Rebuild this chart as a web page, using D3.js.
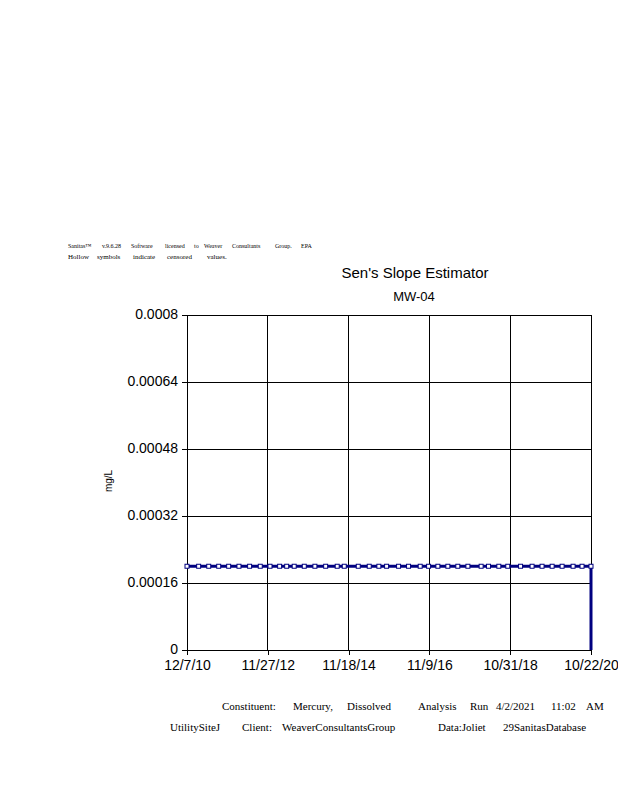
<!DOCTYPE html>
<html>
<head>
<meta charset="utf-8">
<script src="https://cdn.jsdelivr.net/npm/d3@7"></script>
<style>
  html, body { margin: 0; padding: 0; background: #fff; }
  svg { display: block; }
</style>
</head>
<body>
<svg id="chart" width="618" height="800"></svg>
<script>
// ---------- data ----------
const sampleDates = [
  "2010-12-07","2011-03-21","2011-06-19","2011-09-16","2011-12-14","2012-03-15",
  "2012-06-18","2012-09-21","2012-12-17","2013-03-13","2013-05-15","2013-07-21",
  "2013-10-19","2014-01-22","2014-04-28","2014-08-09","2014-10-11","2015-02-13",
  "2015-05-22","2015-08-16","2015-10-24","2016-02-08","2016-05-07","2016-08-19",
  "2016-11-02","2017-01-24","2017-04-23","2017-07-21","2017-10-19","2018-02-14",
  "2018-04-21","2018-07-22","2018-10-10","2019-02-01","2019-05-15","2019-08-12",
  "2019-11-10","2020-02-07","2020-05-15","2020-08-03","2020-10-22"
];
const sampleValues = [
  0.0002,0.0002,0.0002,0.0002,0.0002,0.0002,0.0002,0.0002,0.0002,0.0002,0.0002,
  0.0002,0.0002,0.0002,0.0002,0.0002,0.0002,0.0002,0.0002,0.0002,0.0002,0.0002,
  0.0002,0.0002,0.0002,0.0002,0.0002,0.0002,0.0002,0.0002,0.0002,0.0002,0.0002,
  0.0002,0.0002,0.0002,0.0002,0.0002,0.0002,0.0002,0.0002
];
const dropLineDates = ["2020-10-22", "2020-10-22"];
const dropLineValues = [0.0002, 0];
const xTickLabels = ["12/7/10","11/27/12","11/18/14","11/9/16","10/31/18","10/22/20"];
const xTickDates = ["2010-12-07","2012-11-27","2014-11-18","2016-11-09","2018-10-31","2020-10-22"];
const yTickValues = [0, 0.00016, 0.00032, 0.00048, 0.00064, 0.0008];
const yTickLabels = ["0","0.00016","0.00032","0.00048","0.00064","0.0008"];
const headerLine1 = ["Sanitas\u2122","v.9.6.28","Software","licensed","to","Weaver","Consultants","Group.","EPA"];
const headerLine2 = ["Hollow","symbols","indicate","censored","values."];
const footerLine1 = ["Constituent:","Mercury,","Dissolved","Analysis","Run","4/2/2021","11:02","AM"];
const footerLine2 = ["UtilitySiteJ","Client:","WeaverConsultantsGroup","Data:Joliet","29SanitasDatabase"];

// ---------- layout ----------
const svg = d3.select("#chart");
const parse = d3.timeParse("%Y-%m-%d");
const plotL = 187, plotR = 591, plotT = 315, plotB = 650;

const x = d3.scaleTime()
  .domain([parse(xTickDates[0]), parse(xTickDates[xTickDates.length - 1])])
  .range([plotL, plotR]);
const y = d3.scaleLinear().domain([0, 0.0008]).range([plotB, plotT]);

// gridlines
const grid = svg.append("g").attr("stroke", "#000").attr("stroke-width", 1).attr("shape-rendering", "crispEdges");
yTickValues.forEach(v => {
  grid.append("line").attr("x1", plotL).attr("x2", plotR).attr("y1", y(v)).attr("y2", y(v));
});
xTickDates.forEach(d => {
  grid.append("line").attr("x1", x(parse(d))).attr("x2", x(parse(d))).attr("y1", plotT).attr("y2", plotB);
});

// axes
const yAxis = d3.axisLeft(y).tickValues(yTickValues)
  .tickFormat((d, i) => yTickLabels[i]).tickSize(5).tickPadding(4);
const gy = svg.append("g").attr("transform", `translate(${plotL},0)`).call(yAxis);
gy.select(".domain").remove();
gy.selectAll("line").attr("stroke", "#000").attr("shape-rendering", "crispEdges");
gy.selectAll("text").attr("font-family", "Arial, 'Liberation Sans', sans-serif")
  .attr("font-size", 14).attr("fill", "#000").attr("dy", "0.28em");

const xAxis = d3.axisBottom(x).tickValues(xTickDates.map(parse))
  .tickFormat((d, i) => xTickLabels[i]).tickSize(5).tickPadding(5);
const gx = svg.append("g").attr("transform", `translate(0,${plotB})`).call(xAxis);
gx.select(".domain").remove();
gx.selectAll("line").attr("stroke", "#000").attr("shape-rendering", "crispEdges");
gx.selectAll("text").attr("font-family", "Arial, 'Liberation Sans', sans-serif")
  .attr("font-size", 14).attr("fill", "#000");

// series line
const pts = sampleDates.map((d, i) => ({ date: parse(d), value: sampleValues[i] }));
const line = d3.line().x(d => x(d.date)).y(d => y(d.value));
svg.append("path").datum(pts).attr("d", line)
  .attr("fill", "none").attr("stroke", "#000080").attr("stroke-width", 3);

const drop = dropLineDates.map((d, i) => ({ date: parse(d), value: dropLineValues[i] }));
svg.append("path").datum(drop).attr("d", line)
  .attr("fill", "none").attr("stroke", "#000080").attr("stroke-width", 3);

// hollow markers
svg.append("g").selectAll("rect").data(pts).join("rect")
  .attr("x", d => x(d.date) - 2).attr("y", d => y(d.value) - 2)
  .attr("width", 4).attr("height", 4)
  .attr("fill", "#fff").attr("stroke", "#000080").attr("stroke-width", 1);

// titles
svg.append("text").attr("x", 415).attr("y", 278).attr("text-anchor", "middle")
  .attr("font-family", "Arial, 'Liberation Sans', sans-serif").attr("font-size", 15)
  .text("Sen's Slope Estimator");
svg.append("text").attr("x", 414).attr("y", 301).attr("text-anchor", "middle")
  .attr("font-family", "Arial, 'Liberation Sans', sans-serif").attr("font-size", 13)
  .text("MW-04");

// y label
svg.append("text").attr("transform", "translate(112,481) rotate(-90)")
  .attr("text-anchor", "middle")
  .attr("font-family", "Arial, 'Liberation Sans', sans-serif").attr("font-size", 10)
  .text("mg/L");

// header words
const h1x = [68, 102, 131, 165, 194, 204, 232, 275, 301];
const h2x = [68, 97, 133, 167, 207];
const hdr = svg.append("g").attr("font-family", "'Liberation Serif', 'Times New Roman', serif").attr("fill", "#000");
headerLine1.forEach((w, i) => hdr.append("text").attr("x", h1x[i]).attr("y", 248).attr("font-size", 6).text(w));
headerLine2.forEach((w, i) => hdr.append("text").attr("x", h2x[i]).attr("y", 259).attr("font-size", 7).text(w));

// footer words
const f1x = [222, 293, 347, 418, 470, 496, 551, 586];
const f2x = [170, 242, 282, 438, 503];
const ftr = svg.append("g").attr("font-family", "'Liberation Serif', 'Times New Roman', serif")
  .attr("font-size", 11).attr("fill", "#000");
footerLine1.forEach((w, i) => ftr.append("text").attr("x", f1x[i]).attr("y", 710).text(w));
footerLine2.forEach((w, i) => ftr.append("text").attr("x", f2x[i]).attr("y", 731).text(w));
</script>
</body>
</html>
